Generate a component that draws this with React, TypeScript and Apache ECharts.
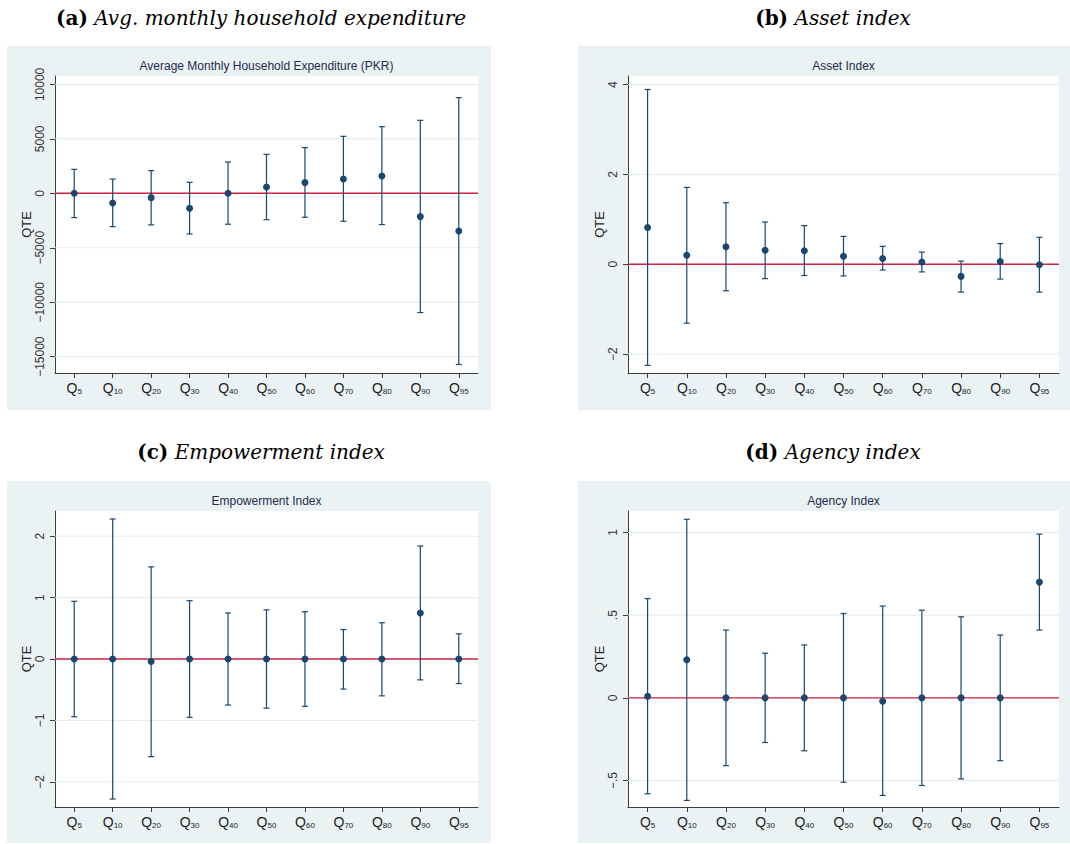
import React, { useEffect, useRef } from "react";
import * as echarts from "echarts";

const categories = ["5", "10", "20", "30", "40", "50", "60", "70", "80", "90", "95"];

const pointA = [0, -890, -400, -1380, 0, 580, 980, 1310, 1590, -2140, -3460];
const lowA = [-2230, -3060, -2900, -3730, -2840, -2420, -2200, -2570, -2870, -10950, -15720];
const highA = [2200, 1310, 2080, 1010, 2870, 3580, 4190, 5230, 6120, 6700, 8780];
const ticksA = [-15000, -10000, -5000, 0, 5000, 10000];

const pointB = [0.82, 0.2, 0.39, 0.31, 0.3, 0.18, 0.13, 0.05, -0.27, 0.06, -0.01];
const lowB = [-2.25, -1.31, -0.59, -0.32, -0.25, -0.26, -0.13, -0.17, -0.62, -0.33, -0.62];
const highB = [3.89, 1.71, 1.37, 0.94, 0.86, 0.62, 0.4, 0.27, 0.07, 0.46, 0.6];
const ticksB = [-2, 0, 2, 4];

const pointC = [0, 0, -0.04, 0, 0, 0, 0, 0, 0, 0.75, 0];
const lowC = [-0.94, -2.28, -1.59, -0.95, -0.75, -0.8, -0.77, -0.49, -0.6, -0.34, -0.4];
const highC = [0.94, 2.28, 1.5, 0.95, 0.75, 0.8, 0.77, 0.48, 0.59, 1.84, 0.41];
const ticksC = [-2, -1, 0, 1, 2];

const pointD = [0.01, 0.23, 0, 0, 0, 0, -0.02, 0, 0, 0, 0.7];
const lowD = [-0.58, -0.62, -0.41, -0.27, -0.32, -0.51, -0.59, -0.53, -0.49, -0.38, 0.41];
const highD = [0.6, 1.08, 0.41, 0.27, 0.32, 0.51, 0.555, 0.53, 0.49, 0.38, 0.99];
const ticksD = [-0.5, 0, 0.5, 1];

const zeroLine = [0];

const panelTitles = [
  "Average Monthly Household Expenditure (PKR)",
  "Asset Index",
  "Empowerment Index",
  "Agency Index",
];
const captionLetters = ["(a)", "(b)", "(c)", "(d)"];
const captionTexts = [
  "Avg. monthly household expenditure",
  "Asset index",
  "Empowerment index",
  "Agency index",
];

const NAVY = "#1a476f";
const RED = "#cc2244";
const BOX = "#eaf2f3";
const GRIDC = "#e3ecee";
const AXIS = "#3c3c3c";
const SANS = "Liberation Sans, Arial, sans-serif";
const SERIF = "DejaVu Serif, serif";

function fmt(v: number): string {
  const a = Math.abs(v);
  let s = String(a);
  if (a > 0 && a < 1) s = s.replace(/^0/, "");
  return (v < 0 ? "\u2212" : "") + s;
}

function hLines(color: string, width: number) {
  return (params: any, api: any) => {
    const cs = params.coordSys;
    const y = api.coord([0, api.value(0)])[1];
    return {
      type: "line",
      shape: { x1: cs.x, y1: y, x2: cs.x + cs.width, y2: y },
      style: { stroke: color, lineWidth: width, fill: "none" },
    };
  };
}

export default function App() {
  const ref = useRef<HTMLDivElement>(null);
  useEffect(() => {
    if (!ref.current) return;
    const chart = echarts.init(ref.current, undefined, { renderer: "svg" });

    const panels = [
      { p: pointA, lo: lowA, hi: highA, ticks: ticksA, min: -16500, max: 10770 },
      { p: pointB, lo: lowB, hi: highB, ticks: ticksB, min: -2.42, max: 4.19 },
      { p: pointC, lo: lowC, hi: highC, ticks: ticksC, min: -2.41, max: 2.41 },
      { p: pointD, lo: lowD, hi: highD, ticks: ticksD, min: -0.66, max: 1.13 },
    ];
    const layout = [
      { gx: 55, gy: 76, gw: 423, gh: 297, bx: 7, by: 46, bw: 484, bh: 364, cx: 261, cy: 18, ty: 66 },
      { gx: 628, gy: 76, gw: 431, gh: 297, bx: 578, by: 46, bw: 492, bh: 364, cx: 833, cy: 18, ty: 66 },
      { gx: 55, gy: 511, gw: 423, gh: 296, bx: 7, by: 481, bw: 484, bh: 362, cx: 261, cy: 452, ty: 501 },
      { gx: 628, gy: 511, gw: 431, gh: 296, bx: 578, by: 481, bw: 492, bh: 362, cx: 833, cy: 452, ty: 501 },
    ];

    const grid: any[] = [];
    const xAxis: any[] = [];
    const yAxis: any[] = [];
    const series: any[] = [];
    const graphic: any[] = [];

    panels.forEach((pn, i) => {
      const L = layout[i];
      graphic.push({
        type: "rect",
        z: -10,
        shape: { x: L.bx, y: L.by, width: L.bw, height: L.bh },
        style: { fill: BOX },
        silent: true,
      });
      graphic.push({
        type: "text",
        x: L.gx + L.gw / 2,
        y: L.ty,
        style: {
          text: panelTitles[i],
          fontSize: 12,
          fontFamily: SANS,
          fill: "#1e2b4d",
          align: "center",
          verticalAlign: "middle",
          textAlign: "center",
          textVerticalAlign: "middle",
        },
      });
      graphic.push({
        type: "text",
        x: L.cx,
        y: L.cy,
        style: {
          text: "{b|" + captionLetters[i] + "} {i|" + captionTexts[i] + "}",
          fontSize: 20,
          fontFamily: SERIF,
          fill: "#000",
          align: "center",
          verticalAlign: "middle",
          textAlign: "center",
          textVerticalAlign: "middle",
          rich: {
            b: { fontWeight: "bold", fontSize: 20, fontFamily: SERIF, fill: "#000" },
            i: { fontStyle: "italic", fontSize: 20, fontFamily: SERIF, fill: "#000" },
          },
        },
      });

      grid.push({
        left: L.gx,
        top: L.gy,
        width: L.gw,
        height: L.gh,
        show: true,
        backgroundColor: "#ffffff",
        borderWidth: 0,
      });
      xAxis.push({
        type: "category",
        gridIndex: i,
        data: categories,
        boundaryGap: true,
        axisLine: { show: true, onZero: false, lineStyle: { color: AXIS, width: 1 } },
        axisTick: { show: true, alignWithLabel: true, length: 5, lineStyle: { color: AXIS } },
        splitLine: { show: false },
        axisLabel: {
          margin: 7,
          interval: 0,
          formatter: (v: string) => "{q|Q}{s|" + v + "}",
          rich: {
            q: { fontSize: 14, fontFamily: SANS, color: "#222", verticalAlign: "bottom", lineHeight: 15 },
            s: { fontSize: 8, fontFamily: SANS, color: "#222", verticalAlign: "bottom", lineHeight: 12 },
          },
        },
      });
      yAxis.push({
        type: "value",
        gridIndex: i,
        min: pn.min,
        max: pn.max,
        name: "QTE",
        nameLocation: "middle",
        nameGap: 22,
        nameRotate: 90,
        nameTextStyle: { fontSize: 13, fontFamily: SANS, color: "#222" },
        axisLine: { show: true, onZero: false, lineStyle: { color: AXIS, width: 1 } },
        axisTick: { show: true, length: 5, lineStyle: { color: AXIS }, customValues: pn.ticks },
        splitLine: { show: false },
        axisLabel: {
          rotate: 90,
          margin: 9,
          fontSize: 12,
          fontFamily: SANS,
          color: "#333",
          customValues: pn.ticks,
          formatter: (v: number) => fmt(v),
        },
      });

      // grid lines
      series.push({
        type: "custom",
        xAxisIndex: i,
        yAxisIndex: i,
        z: 1,
        silent: true,
        data: pn.ticks.map((t) => [t]),
        encode: { y: 0 },
        renderItem: hLines(GRIDC, 1),
      });
      // zero line
      series.push({
        type: "custom",
        xAxisIndex: i,
        yAxisIndex: i,
        z: 2,
        silent: true,
        data: zeroLine.map((t) => [t]),
        encode: { y: 0 },
        renderItem: hLines(RED, 1.4),
      });
      // error bars
      series.push({
        type: "custom",
        xAxisIndex: i,
        yAxisIndex: i,
        z: 3,
        silent: true,
        data: categories.map((_, k) => [k, pn.lo[k], pn.hi[k]]),
        encode: { x: 0, y: [1, 2] },
        renderItem: (params: any, api: any) => {
          const lo = api.coord([api.value(0), api.value(1)]);
          const hi = api.coord([api.value(0), api.value(2)]);
          const w = 3;
          const style = { stroke: NAVY, lineWidth: 1.2, fill: "none" };
          return {
            type: "group",
            children: [
              { type: "line", shape: { x1: lo[0], y1: lo[1], x2: hi[0], y2: hi[1] }, style },
              { type: "line", shape: { x1: lo[0] - w, y1: lo[1], x2: lo[0] + w, y2: lo[1] }, style },
              { type: "line", shape: { x1: hi[0] - w, y1: hi[1], x2: hi[0] + w, y2: hi[1] }, style },
            ],
          };
        },
      });
      // points
      series.push({
        type: "scatter",
        xAxisIndex: i,
        yAxisIndex: i,
        z: 4,
        symbol: "circle",
        symbolSize: 7,
        itemStyle: { color: NAVY, opacity: 1 },
        data: pn.p,
      });
    });

    chart.setOption({
      animation: false,
      backgroundColor: "#ffffff",
      grid,
      xAxis,
      yAxis,
      series,
      graphic: { elements: graphic },
    });
    return () => chart.dispose();
  }, []);

  return (
    <div
      ref={ref}
      style={{ position: "absolute", left: 0, top: 0, width: 1070, height: 844 }}
    />
  );
}
